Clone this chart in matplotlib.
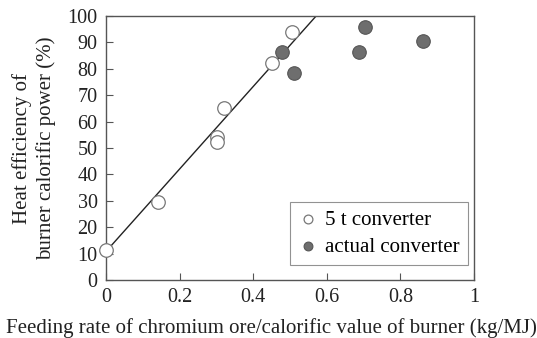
"""Heat efficiency vs feeding rate of chromium ore."""
import matplotlib
matplotlib.use('Agg')
import matplotlib.pyplot as plt

plt.rcParams['font.family'] = ['Liberation Serif', 'DejaVu Serif']

# 5 t converter (open circles)
x_5t = [0.0, 0.140, 0.301, 0.301, 0.321, 0.452, 0.505]
y_5t = [11.4, 29.7, 54.0, 52.2, 65.3, 82.2, 93.8]

# actual converter (filled circles)
x_act = [0.479, 0.511, 0.688, 0.704, 0.861]
y_act = [86.5, 78.4, 86.2, 95.7, 90.5]

# fitted line
fit_x = [0.0, 0.571]
fit_y = [10.8, 100.0]

fig = plt.figure(figsize=(5.37, 3.38), dpi=100)
ax = fig.add_axes([106 / 537, 58 / 338, 368 / 537, 264 / 338])

ax.plot(fit_x, fit_y, color='#222222', lw=1.0, zorder=2)
ax.scatter(x_5t, y_5t, s=95, facecolor='white', edgecolor='#777777',
           linewidth=0.9, zorder=3, label='5 t converter', clip_on=False)
ax.scatter(x_act, y_act, s=95, facecolor='#6e6e6e', edgecolor='#555555',
           linewidth=0.8, zorder=3, label='actual converter', clip_on=False)

ax.set_xlim(0, 1)
ax.set_ylim(0, 100)
ax.set_xticks([0, 0.2, 0.4, 0.6, 0.8, 1])
ax.set_xticklabels(['0', '0.2', '0.4', '0.6', '0.8', '1'])
ax.set_yticks(range(0, 101, 10))
ax.tick_params(direction='in', length=5, width=0.8, labelsize=14.5,
               colors='#555555', labelcolor='#222222', pad=6)
for side in ['left', 'bottom', 'top', 'right']:
    ax.spines[side].set_color('#555555')
    ax.spines[side].set_linewidth(1.0)

ax.set_ylabel('Heat efficiency of\nburner calorific power (%)', fontsize=15,
              color='#222222', labelpad=8, linespacing=1.3)
fig.text(0.505, 0.03, 'Feeding rate of chromium ore/calorific value of burner (kg/MJ)',
         ha='center', va='center', fontsize=15, color='#222222')

leg = ax.legend(loc='lower right', bbox_to_anchor=(0.984, 0.057), fontsize=15,
                frameon=True, fancybox=False, edgecolor='#777777',
                borderaxespad=0, handletextpad=0.3, borderpad=0.4,
                labelspacing=0.35, handlelength=1.0, markerscale=0.65)
leg.get_frame().set_linewidth(0.8)

fig.savefig('out.png', dpi=100)
